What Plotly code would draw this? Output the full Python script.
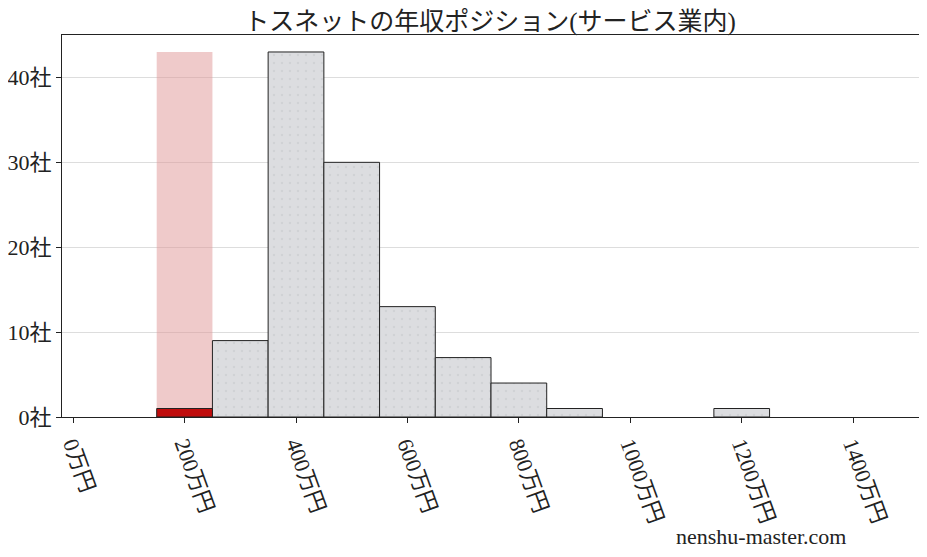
import plotly.graph_objects as go

# 年収分布（サービス業内）: bin start (万円) and number of companies
bin_starts = [150, 250, 350, 450, 550, 650, 750, 850, 950, 1050, 1150]
company_counts = [1, 9, 43, 30, 13, 7, 4, 1, 0, 0, 1]
bin_width = 100

# the company's own bin
target_bin = 150

x_ticks = [0, 200, 400, 600, 800, 1000, 1200, 1400]
x_tick_labels = [f"{v}万円" for v in x_ticks]
y_ticks = [0, 10, 20, 30, 40]
y_tick_labels = [f"{v}社" for v in y_ticks]

FONT = "Liberation Serif, Noto Sans CJK JP"

centers = [s + bin_width / 2 for s in bin_starts]
target_idx = bin_starts.index(target_bin)
# empty bins are not drawn at all
others = [(c, v) for i, (c, v) in enumerate(zip(centers, company_counts))
          if i != target_idx and v > 0]

fig = go.Figure()

# pink band marking the company's bin
fig.add_trace(go.Bar(
    x=[centers[target_idx]], y=[max(company_counts)], width=bin_width,
    marker=dict(color="rgba(224,150,150,0.5)", line=dict(width=0)),
    hoverinfo="skip",
))

fig.add_trace(go.Bar(
    x=[c for c, _ in others], y=[v for _, v in others], width=bin_width,
    marker=dict(
        color="#dcdde0",
        line=dict(color="#222222", width=1),
        pattern=dict(shape=".", fgcolor="#c4c5c9", size=8, solidity=0.08),
    ),
))

fig.add_trace(go.Bar(
    x=[centers[target_idx]], y=[company_counts[target_idx]], width=bin_width,
    marker=dict(color="#c00d0d", line=dict(color="#222222", width=1)),
))

# page body has an 8px margin, so margins are shifted by that much
fig.update_layout(
    width=927, height=557,
    barmode="overlay",
    showlegend=False,
    plot_bgcolor="white",
    paper_bgcolor="white",
    margin=dict(l=54, r=15, t=27, b=148),
    font=dict(family=FONT, color="#222222"),
    title=dict(
        text="トスネットの年収ポジション(サービス業内)",
        x=0.52, xanchor="center", y=0.976, yanchor="middle",
        font=dict(size=25, family=FONT, color="#222222"),
    ),
    xaxis=dict(
        range=[-20, 1520], automargin=False,
        tickvals=x_ticks, ticktext=x_tick_labels, tickangle=70,
        tickfont=dict(size=22),
        ticks="outside", ticklen=5, tickcolor="#222222",
        showline=True, linecolor="#222222", mirror=True,
        showgrid=False, zeroline=False,
    ),
    yaxis=dict(
        range=[0, 45], automargin=False,
        tickvals=y_ticks, ticktext=y_tick_labels,
        tickfont=dict(size=22),
        ticks="outside", ticklen=5, tickcolor="#222222",
        showline=True, linecolor="#222222", mirror=True,
        showgrid=True, gridcolor="#dddddd", zeroline=False,
    ),
)

fig.add_annotation(
    text="nenshu-master.com", xref="paper", yref="paper",
    x=0.916, y=-0.314, xanchor="right", yanchor="middle",
    showarrow=False, font=dict(size=22, family=FONT, color="#222222"),
)

fig.write_html("out.html")
